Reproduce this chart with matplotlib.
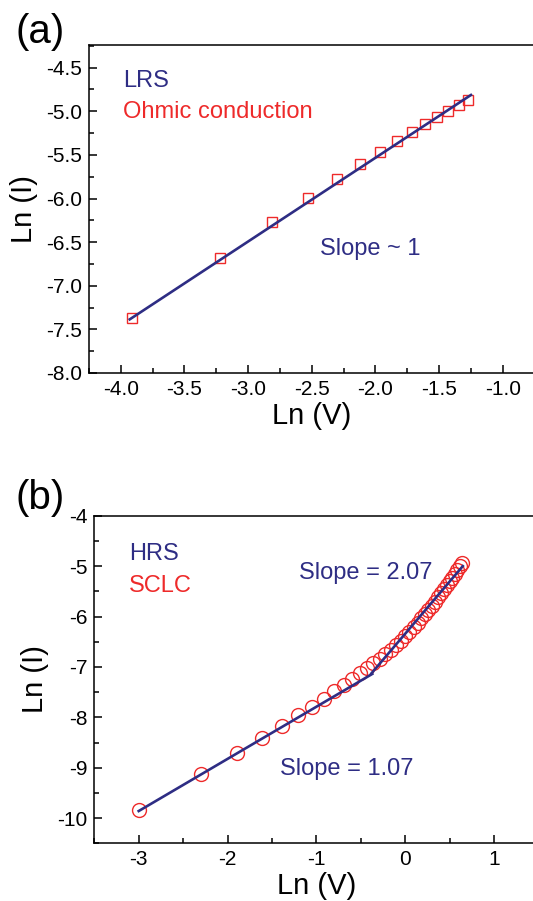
import matplotlib
matplotlib.use('Agg')
import matplotlib.pyplot as plt
from matplotlib.ticker import MultipleLocator

plt.rcParams['font.family'] = ['Liberation Sans', 'DejaVu Sans']
plt.rcParams['axes.unicode_minus'] = False

navy = '#2E2D84'
red = '#EE2A2A'

# (a) LRS, ohmic
lrs_lnv = [-3.912, -3.219, -2.813, -2.526, -2.303, -2.120, -1.966,
           -1.833, -1.715, -1.609, -1.514, -1.427, -1.347, -1.273]
lrs_lni = [-7.367, -6.686, -6.273, -5.998, -5.780, -5.608, -5.467,
           -5.341, -5.241, -5.146, -5.065, -4.993, -4.931, -4.874]
lrs_fit_x = [-3.93, -1.25]
lrs_fit_y = [-7.385, -4.813]

# (b) HRS, SCLC
hrs_lnv = [-2.996, -2.303, -1.897, -1.609, -1.386, -1.204, -1.050, -0.916,
           -0.799, -0.693, -0.598, -0.511, -0.431, -0.357, -0.288, -0.223,
           -0.163, -0.105, -0.051, 0.000, 0.049, 0.095, 0.140, 0.182,
           0.223, 0.262, 0.300, 0.336, 0.372, 0.405, 0.438, 0.470,
           0.501, 0.531, 0.560, 0.588, 0.615, 0.642]
hrs_lni = [-9.840, -9.125, -8.714, -8.405, -8.173, -7.960, -7.790, -7.631,
           -7.485, -7.365, -7.246, -7.127, -7.016, -6.930, -6.840, -6.749,
           -6.659, -6.567, -6.477, -6.388, -6.299, -6.212, -6.123, -6.038,
           -5.953, -5.869, -5.785, -5.704, -5.620, -5.542, -5.462, -5.383,
           -5.305, -5.229, -5.153, -5.079, -5.006, -4.940]
fit1_x = [-3.0, -0.37]
fit1_y = [-9.86, -7.14]
fit2_x = [-0.38, 0.65]
fit2_y = [-7.13, -5.0]

W, H = 533, 901
fig = plt.figure(figsize=(W / 100, H / 100), dpi=100)

ax1 = fig.add_axes([89 / W, 1 - 373 / H, 445.6 / W, 328 / H])
ax2 = fig.add_axes([94.3 / W, 1 - 843.3 / H, 444 / W, 327.6 / H])

for ax in (ax1, ax2):
    for s in ax.spines.values():
        s.set_linewidth(1.1)
    ax.tick_params(which='both', direction='in', width=1.1, labelsize=15, pad=5)
    ax.tick_params(which='major', length=6)
    ax.tick_params(which='minor', length=3.5)

ax1.plot(lrs_fit_x, lrs_fit_y, color=navy, lw=1.9, zorder=3)
ax1.plot(lrs_lnv, lrs_lni, 's', ms=6.5, mfc='none', mec=red, mew=1.0, zorder=2)
ax1.set_xlim(-4.25, -0.75)
ax1.set_ylim(-8.0, -4.24)
ax1.xaxis.set_major_locator(MultipleLocator(0.5))
ax1.xaxis.set_minor_locator(MultipleLocator(0.25))
ax1.yaxis.set_major_locator(MultipleLocator(0.5))
ax1.yaxis.set_minor_locator(MultipleLocator(0.25))
ax1.xaxis.set_major_formatter(lambda v, p: f'{v:.1f}')
ax1.yaxis.set_major_formatter(lambda v, p: f'{v:.1f}')
ax1.set_xlabel('Ln (V)', fontsize=21, labelpad=2)
ax1.set_ylabel('Ln (I)', fontsize=21, labelpad=6)
ax1.text(-3.98, -4.65, 'LRS', color=navy, fontsize=17, va='center')
ax1.text(-3.98, -5.01, 'Ohmic conduction', color=red, fontsize=17, va='center')
ax1.text(-2.433, -6.58, 'Slope ~ 1', color=navy, fontsize=17, va='center')

ax2.plot(hrs_lnv, hrs_lni, 'o', ms=10, mfc='none', mec=red, mew=1.0, zorder=2)
ax2.plot(fit1_x, fit1_y, color=navy, lw=1.9, zorder=3)
ax2.plot(fit2_x, fit2_y, color=navy, lw=1.9, zorder=3)
ax2.set_xlim(-3.5, 1.5)
ax2.set_ylim(-10.5, -4)
ax2.xaxis.set_major_locator(MultipleLocator(1))
ax2.xaxis.set_minor_locator(MultipleLocator(0.5))
ax2.yaxis.set_major_locator(MultipleLocator(1))
ax2.yaxis.set_minor_locator(MultipleLocator(0.5))
ax2.set_xlabel('Ln (V)', fontsize=21, labelpad=2)
ax2.set_ylabel('Ln (I)', fontsize=21, labelpad=6)
ax2.text(-3.11, -4.76, 'HRS', color=navy, fontsize=17, va='center')
ax2.text(-3.11, -5.395, 'SCLC', color=red, fontsize=17, va='center')
ax2.text(-1.19, -5.13, 'Slope = 2.07', color=navy, fontsize=17, va='center')
ax2.text(-1.409, -9.02, 'Slope = 1.07', color=navy, fontsize=17, va='center')

fig.text(15 / W, 1 - 32 / H, '(a)', fontsize=29, va='center', ha='left')
fig.text(15 / W, 1 - 498 / H, '(b)', fontsize=29, va='center', ha='left')

fig.savefig('out.png', dpi=100)
